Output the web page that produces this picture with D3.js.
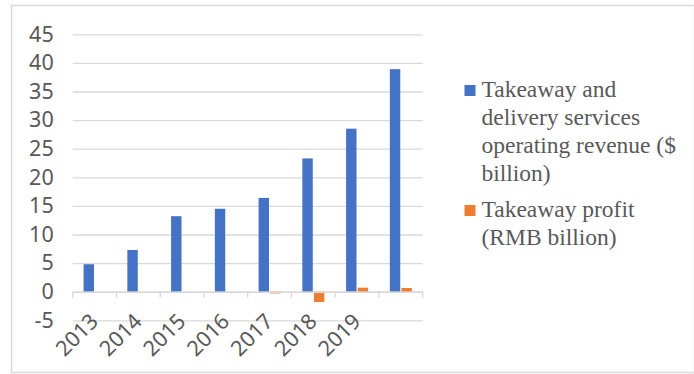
<!DOCTYPE HTML>
<html lang="en">
<head>
<meta charset="utf-8" />
<title>Takeaway revenue and profit</title>
<style>
  html, body { margin: 0; padding: 0; background: #fff; }
</style>
</head>
<body>
<div id="chart"></div>
<script src="https://d3js.org/d3.v7.min.js"></script>
<script>
  // 8 category slots, only the first 7 carry a label
  const slots = [0, 1, 2, 3, 4, 5, 6, 7];
  const yearLabels = ["2013", "2014", "2015", "2016", "2017", "2018", "2019", ""];
  const revenue = [4.8, 7.3, 13.2, 14.5, 16.4, 23.3, 28.5, 38.9];
  const profit = [0, 0, 0, 0, -0.3, -1.8, 0.7, 0.65];
  const seriesNames = [
    ["Takeaway and", "delivery services", "operating revenue ($", "billion)"],
    ["Takeaway profit", "(RMB billion)"]
  ];
  const colors = ["#4472c4", "#ed7d31"];
  const yTicks = [-5, 0, 5, 10, 15, 20, 25, 30, 35, 40, 45];

  const W = 694, H = 374;
  const plot = { left: 72.7, right: 422.7, top: 34.3, bottom: 320.3 };

  const svg = d3.select("#chart")
    .append("svg")
    .attr("width", W)
    .attr("height", H);

  // outer frame
  svg.append("rect")
    .attr("x", 11.5).attr("y", 5.5)
    .attr("width", W - 11).attr("height", 367)
    .attr("fill", "none")
    .attr("stroke", "#d9d9d9")
    .attr("stroke-width", 1.5);

  const x0 = d3.scaleBand()
    .domain(slots)
    .range([plot.left, plot.right])
    .padding(0);

  const x1 = d3.scaleBand()
    .domain([0, 1])
    .range([10.9, 32.9])
    .paddingInner(0.1);

  const y = d3.scaleLinear()
    .domain([-5, 45])
    .range([plot.bottom, plot.top]);

  // gridlines + y labels
  const yAxis = svg.append("g")
    .attr("transform", `translate(${plot.left},0)`)
    .call(d3.axisLeft(y)
      .tickValues(yTicks)
      .tickFormat(d => String(d))
      .tickSize(-(plot.right - plot.left))
      .tickPadding(19));
  yAxis.select(".domain").remove();
  yAxis.selectAll(".tick line")
    .attr("stroke", "#d9d9d9")
    .attr("stroke-width", 1.3);
  yAxis.selectAll(".tick text")
    .attr("fill", "#595959")
    .attr("font-family", "'Noto Sans', sans-serif")
    .attr("font-size", "21.5px");

  // bars
  const rows = slots.map(i => [revenue[i], profit[i]]);
  const groups = svg.append("g")
    .selectAll("g")
    .data(rows)
    .join("g")
    .attr("transform", (d, i) => `translate(${x0(slots[i])},0)`);

  groups.selectAll("rect")
    .data(d => d.map((v, k) => ({ v, k })))
    .join("rect")
    .attr("x", d => x1(d.k))
    .attr("width", x1.bandwidth())
    .attr("y", d => y(Math.max(0, d.v)))
    .attr("height", d => Math.abs(y(d.v) - y(0)))
    .attr("fill", d => colors[d.k]);

  // category axis at zero
  const xAxis = svg.append("g")
    .attr("transform", `translate(0,${y(0)})`)
    .call(d3.axisBottom(x0).tickSize(0).tickFormat(""));
  xAxis.select(".domain")
    .attr("stroke", "#d9d9d9")
    .attr("stroke-width", 1.5);

  svg.append("g")
    .selectAll("line")
    .data(slots.concat([slots.length]))
    .join("line")
    .attr("x1", d => plot.left + d * x0.step())
    .attr("x2", d => plot.left + d * x0.step())
    .attr("y1", y(0))
    .attr("y2", y(0) + 6)
    .attr("stroke", "#d9d9d9")
    .attr("stroke-width", 1.3);

  svg.append("g")
    .selectAll("text")
    .data(slots)
    .join("text")
    .attr("transform", d => `translate(${x0(d) + x0.bandwidth() / 2 + 5},${y(0) + 31}) rotate(-45)`)
    .attr("text-anchor", "end")
    .attr("fill", "#595959")
    .attr("font-family", "'Noto Sans', sans-serif")
    .attr("font-size", "21.5px")
    .text(d => yearLabels[d]);

  // legend
  const legendY = [85, 205];
  const legend = svg.append("g");
  seriesNames.forEach((lines, k) => {
    legend.append("rect")
      .attr("x", 464.5).attr("y", legendY[k])
      .attr("width", 11).attr("height", 11)
      .attr("fill", colors[k]);
    const t = legend.append("text")
      .attr("x", 481.5)
      .attr("y", legendY[k] + 11.5)
      .attr("fill", "#595959")
      .attr("font-family", "'Liberation Serif', 'Times New Roman', serif")
      .attr("font-size", "23.5px");
    lines.forEach((line, j) => {
      t.append("tspan")
        .attr("x", 481.5)
        .attr("dy", j === 0 ? 0 : 28)
        .text(line);
    });
  });
</script>
</body>
</html>
